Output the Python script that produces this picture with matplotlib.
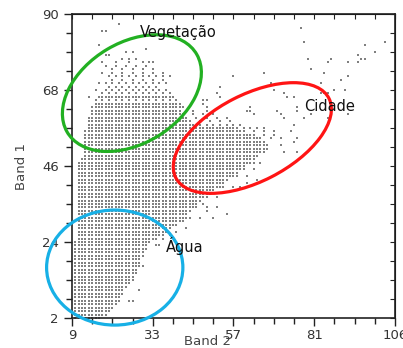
import matplotlib
matplotlib.use("Agg")
import matplotlib.pyplot as plt
from matplotlib.patches import Ellipse
from matplotlib.ticker import FixedLocator
import numpy as np

# dense part of the cloud: for each Band 1 row, Band 2 from x_lo to x_hi
dense_y = list(range(2, 63))
dense_lo = [10] * 23 + [11] * 23 + [12, 13, 13, 13, 13, 13, 13, 13, 13, 14, 14, 14, 14, 15, 15]
dense_hi = [17, 19, 20, 21, 22, 23, 23, 24, 24, 25, 26, 27, 27, 28, 28, 28, 29, 29, 30, 30, 31, 31, 32,
            34, 36, 37, 38, 40, 41, 42, 43, 44, 45, 46, 47, 48, 50, 51, 53, 54, 55, 57, 58, 59, 60, 62,
            63, 64, 66, 67, 67, 66, 64, 62, 59, 57, 44, 43, 42, 41, 40]

# thinner rows around the edges: (Band 1, Band 2 start, Band 2 end, every n-th)
thin_y = [63, 64, 65, 66, 67, 68, 69, 70, 71, 72, 73, 74, 75, 76,
          58, 59, 60, 61, 62, 57, 56, 55, 54, 47, 45, 43, 40, 37, 34, 31]
thin_lo = [15, 16, 16, 17, 18, 19, 20, 17, 21, 20, 18, 21, 19, 18,
           45, 44, 43, 42, 41, 58, 60, 63, 65, 63, 60, 58, 54, 49, 46, 43]
thin_hi = [42, 41, 40, 39, 38, 37, 34, 38, 37, 39, 37, 34, 33, 32,
           60, 58, 56, 52, 50, 66, 69, 71, 72, 66, 63, 61, 57, 52, 52, 51]
thin_step = [1, 1, 2, 1, 2, 2, 2, 2, 3, 2, 3, 3, 3, 4,
             2, 3, 3, 3, 4, 2, 3, 3, 3, 2, 3, 3, 3, 3, 3, 4]

# isolated pixels
sparse_x = [23, 18, 19, 17, 31, 25, 27, 19, 20, 24, 26, 28, 32, 33, 14, 16,
            77, 78, 102, 96, 99, 94, 79, 86, 85, 91, 94, 95, 96, 80, 84, 66, 91, 89, 83, 68,
            90, 87, 69, 83, 84, 85, 72, 73, 75, 91, 80, 76, 76, 85, 78, 57, 53, 52, 53,
            48, 49, 48, 49, 62, 61, 62, 63, 70, 71, 72, 74, 75, 75, 76, 71, 72, 76,
            64, 59, 61, 49, 52, 51, 55, 48, 49, 42, 44, 43, 40, 38, 36,
            28, 30, 31, 34, 35, 29, 30, 26, 27, 29, 26, 27]
sparse_y = [87, 85, 85, 81, 80, 79, 79, 78, 78, 77, 77, 77, 76, 76, 66, 68,
            86, 82, 82, 81, 79, 78, 77, 77, 76, 76, 76, 77, 77, 74, 73, 73, 72, 71, 70, 70,
            68, 68, 68, 67, 67, 67, 67, 66, 66, 61, 61, 63, 62, 60, 60, 72, 69, 67, 66,
            65, 65, 64, 63, 63, 62, 62, 61, 62, 61, 60, 56, 58, 53, 54, 52, 50, 50,
            42, 40, 41, 34, 34, 31, 32, 35, 33, 30, 31, 28, 27, 26, 25,
            24, 24, 23, 23, 23, 17, 17, 14, 13, 10, 7, 7]

x_ticks = [9, 33, 57, 81, 105]
x_ticklabels = ["9", "33", "57", "81", "106"]
y_ticks = [2, 24, 46, 68, 90]

# class regions (centre x, centre y, width, height, angle)
regions = ["Vegetação", "Cidade", "Água"]
reg_cx = [26.8, 62.6, 21.7]
reg_cy = [67.1, 54.1, 16.6]
reg_w = [44.6, 51.0, 40.5]
reg_h = [29.3, 25.2, 33.3]
reg_ang = [30, 26.5, 0]
reg_col = ["#22b022", "#ff1414", "#17b0e6"]
label_x = [40.5, 85.5, 42.5]
label_y = [84.5, 63.2, 22.8]

# build the point list
px, py = [], []
for y, lo, hi in zip(dense_y, dense_lo, dense_hi):
    for x in range(lo, hi + 1):
        px.append(x)
        py.append(y)
for y, lo, hi, st in zip(thin_y, thin_lo, thin_hi, thin_step):
    for x in range(lo, hi + 1, st):
        px.append(x)
        py.append(y)
px += sparse_x
py += sparse_y

fig = plt.figure(figsize=(4.03, 3.48), dpi=100)
ax = fig.add_axes([72 / 403, 1 - 318 / 348, 323 / 403, 304 / 348])

ax.scatter(px, py, s=0.7, marker="s", color="#808080", linewidths=0, zorder=2)

for i in range(len(regions)):
    e = Ellipse((reg_cx[i], reg_cy[i]), reg_w[i], reg_h[i], angle=reg_ang[i],
                fill=False, edgecolor=reg_col[i], linewidth=2.3, clip_on=False, zorder=4)
    ax.add_patch(e)
    ax.text(label_x[i], label_y[i], regions[i], fontsize=10.5, color="#111111",
            ha="center", va="center", zorder=5)

ax.set_xlim(9, 105)
ax.set_ylim(2, 90)
ax.xaxis.set_major_locator(FixedLocator(x_ticks))
ax.xaxis.set_minor_locator(FixedLocator(np.arange(9, 106, 6)))
ax.yaxis.set_major_locator(FixedLocator(y_ticks))
ax.yaxis.set_minor_locator(FixedLocator(np.arange(2, 91, 5.5)))
ax.set_xticklabels(x_ticklabels)

ax.tick_params(which="both", direction="out", colors="#222222", labelcolor="#333333",
               labelsize=9.5, width=1.0)
ax.tick_params(which="major", length=6)
ax.tick_params(which="minor", length=4)
ax.tick_params(axis="x", pad=2)

top = ax.secondary_xaxis("top")
top.xaxis.set_major_locator(FixedLocator(np.arange(9, 106, 6)))
top.tick_params(direction="in", length=3.5, labeltop=False, colors="#222222")
right = ax.secondary_yaxis("right")
right.yaxis.set_major_locator(FixedLocator(np.arange(2, 91, 5.5)))
right.tick_params(direction="in", length=3.5, labelright=False, colors="#222222")

for s in ax.spines.values():
    s.set_linewidth(1.2)
    s.set_color("#222222")

ax.set_xlabel("Band 2", fontsize=9.5, color="#444444", va="top")
ax.set_ylabel("Band 1", fontsize=9.5, color="#444444")
ax.xaxis.set_label_coords((207 - 72) / 323, -0.055)
ax.yaxis.set_label_coords(-0.135, 0.5)

fig.savefig("out.png", dpi=100)
